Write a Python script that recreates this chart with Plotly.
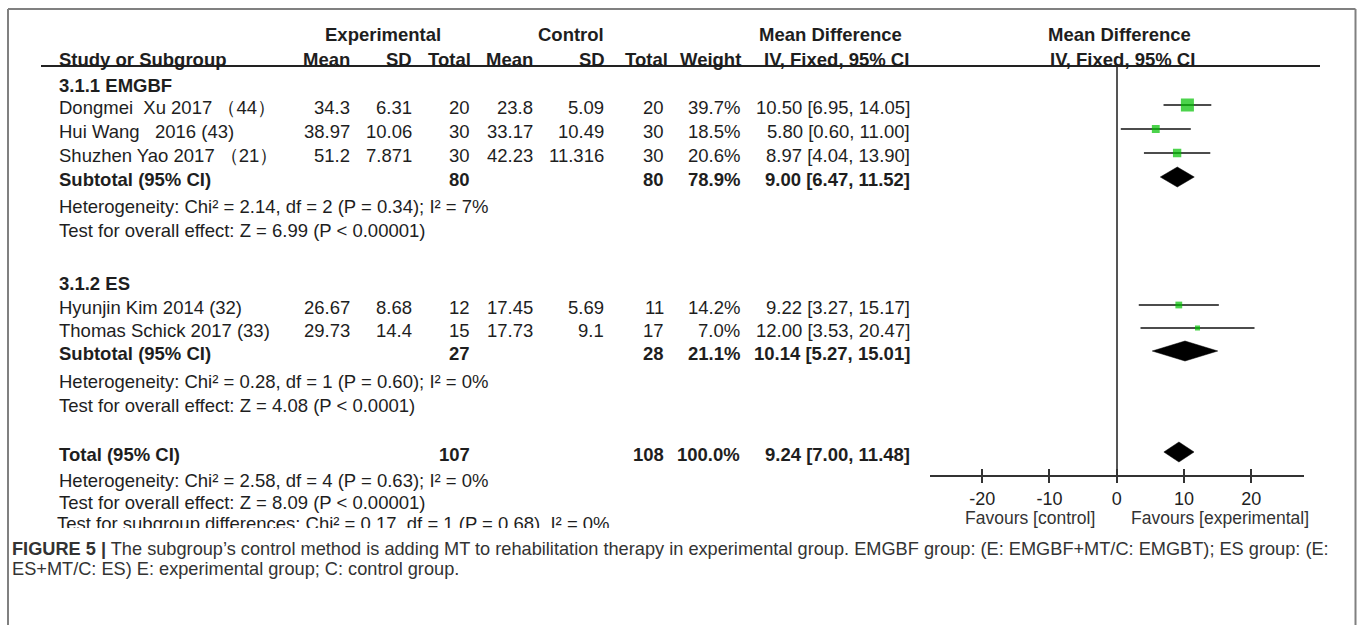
import plotly.graph_objects as go

# ---------------- data ----------------
studies = ["Dongmei\u00a0 Xu 2017 （44）", "Hui Wang\u00a0\u00a0 2016 (43)", "Shuzhen Yao 2017 （21）",
           "Hyunjin Kim 2014 (32)", "Thomas Schick 2017 (33)"]
study_group = [0, 0, 0, 1, 1]
exp_mean = [34.3, 38.97, 51.2, 26.67, 29.73]
exp_sd = [6.31, 10.06, 7.871, 8.68, 14.4]
exp_n = [20, 30, 30, 12, 15]
ctl_mean = [23.8, 33.17, 42.23, 17.45, 17.73]
ctl_sd = [5.09, 10.49, 11.316, 5.69, 9.1]
ctl_n = [20, 30, 30, 11, 17]
weight = [39.7, 18.5, 20.6, 14.2, 7.0]
md = [10.50, 5.80, 8.97, 9.22, 12.00]
md_lo = [6.95, 0.60, 4.04, 3.27, 3.53]
md_hi = [14.05, 11.00, 13.90, 15.17, 20.47]

subgroups = ["3.1.1 EMGBF", "3.1.2 ES"]
sub_exp_n = [80, 27]
sub_ctl_n = [80, 28]
sub_weight = [78.9, 21.1]
sub_md = [9.00, 10.14]
sub_lo = [6.47, 5.27]
sub_hi = [11.52, 15.01]
sub_het = ["Heterogeneity: Chi² = 2.14, df = 2 (P = 0.34); I² = 7%",
           "Heterogeneity: Chi² = 0.28, df = 1 (P = 0.60); I² = 0%"]
sub_effect = ["Test for overall effect: Z = 6.99 (P < 0.00001)",
              "Test for overall effect: Z = 4.08 (P < 0.0001)"]

total_exp_n, total_ctl_n, total_weight = 107, 108, 100.0
total_md, total_lo, total_hi = 9.24, 7.00, 11.48
total_het = "Heterogeneity: Chi² = 2.58, df = 4 (P = 0.63); I² = 0%"
total_effect = "Test for overall effect: Z = 8.09 (P < 0.00001)"
subgroup_diff = "Test for subgroup differences: Chi² = 0.17, df = 1 (P = 0.68), I² = 0%"

axis_ticks = [-20, -10, 0, 10, 20]
favours = ["Favours [control]", "Favours [experimental]"]
caption = ["<b>FIGURE 5 |</b> The subgroup’s control method is adding MT to rehabilitation therapy in "
           "experimental group. EMGBF group: (E: EMGBF+MT/C: EMGBT); ES group: (E:",
           "ES+MT/C: ES) E: experimental group; C: control group."]

# ---------------- layout constants (pixels) ----------------
W, H = 1357, 625
FONT = "Liberation Sans, Arial, sans-serif"
INK = "#1e1e1e"
FS = 18.5
GREEN = "#00c000"

X_NAME = 57
X_EMEAN, X_ESD, X_EN = 352, 414, 472
X_CMEAN, X_CSD, X_CN = 535, 606, 666
X_WT, X_CI = 742, 912

Y_SUB_HEAD = [84, 281]
Y_STUDY = [105, 129, 153, 305, 328]
Y_SUBTOTAL = [177, 351]
Y_HET = [204, 379]
Y_EFF = [229, 403]
Y_TOTAL = 452
Y_TOT_HET, Y_TOT_EFF, Y_SUBDIFF = 481, 502, 525
TXT_DY = 2

FOREST_X0, FOREST_X1 = 930, 1303.5
FOREST_TOP, FOREST_AXIS = 66, 475
X_RANGE = [-27.75, 27.75]
DIAMOND_HALF = 10

annotations = []


def txt(x, y, s, anchor="left", bold=False, size=FS, color=INK):
    annotations.append(dict(
        x=x / W, y=1 - y / H, xref="paper", yref="paper",
        text=f"<b>{s}</b>" if bold else s, showarrow=False,
        xanchor=anchor, yanchor="middle",
        font=dict(size=size, color=color, family=FONT)))


# column headers
txt(383, 34, "Experimental", "center", True)
txt(571, 34, "Control", "center", True)
txt(757, 34, "Mean Difference", "left", True)
txt(1046, 34, "Mean Difference", "left", True)
txt(X_NAME, 59, "Study or Subgroup", "left", True)
for x, s in [(X_EMEAN, "Mean"), (X_ESD, "SD"), (473, "Total"), (X_CMEAN, "Mean"),
             (607, "SD"), (670, "Total"), (743, "Weight")]:
    txt(x, 59, s, "right", True)
txt(762, 59, "IV, Fixed, 95% CI", "left", True)
txt(1048, 59, "IV, Fixed, 95% CI", "left", True)


def ci_text(m, lo, hi):
    return f"{m:.2f} [{lo:.2f}, {hi:.2f}]"


# study rows
for i, name in enumerate(studies):
    y = Y_STUDY[i] + TXT_DY
    txt(X_NAME, y, name)
    txt(X_EMEAN, y, str(exp_mean[i]), "right")
    txt(X_ESD, y, str(exp_sd[i]), "right")
    txt(X_EN, y, str(exp_n[i]), "right")
    txt(X_CMEAN, y, str(ctl_mean[i]), "right")
    txt(X_CSD, y, str(ctl_sd[i]), "right")
    txt(X_CN, y, str(ctl_n[i]), "right")
    txt(X_WT, y, f"{weight[i]:.1f}%", "right")
    txt(X_CI, y, ci_text(md[i], md_lo[i], md_hi[i]), "right")

# subgroup blocks
for g, name in enumerate(subgroups):
    txt(X_NAME, Y_SUB_HEAD[g] + TXT_DY, name, bold=True)
    y = Y_SUBTOTAL[g] + TXT_DY
    txt(X_NAME, y, "Subtotal (95% CI)", bold=True)
    txt(X_EN, y, str(sub_exp_n[g]), "right", True)
    txt(X_CN, y, str(sub_ctl_n[g]), "right", True)
    txt(X_WT, y, f"{sub_weight[g]:.1f}%", "right", True)
    txt(X_CI, y, ci_text(sub_md[g], sub_lo[g], sub_hi[g]), "right", True)
    txt(X_NAME, Y_HET[g] + TXT_DY, sub_het[g])
    txt(X_NAME, Y_EFF[g] + TXT_DY, sub_effect[g])

# overall
y = Y_TOTAL + TXT_DY
txt(X_NAME, y, "Total (95% CI)", bold=True)
txt(X_EN, y, str(total_exp_n), "right", True)
txt(X_CN, y, str(total_ctl_n), "right", True)
txt(X_WT, y, f"{total_weight:.1f}%", "right", True)
txt(X_CI, y, ci_text(total_md, total_lo, total_hi), "right", True)
txt(X_NAME, Y_TOT_HET, total_het)
txt(X_NAME, Y_TOT_EFF, total_effect)

# favours labels under the axis
txt(1030, 518, favours[0], "center", size=17.5, color="#333")
txt(1220, 518, favours[1], "center", size=17.5, color="#333")

# caption
txt(10, 549, caption[0], "left", size=18.2, color="#333")
txt(10, 569, caption[1], "left", size=18.2, color="#333")

# ---------------- forest plot traces ----------------
fig = go.Figure()

ci_x, ci_y = [], []
for i in range(len(studies)):
    ci_x += [md_lo[i], md_hi[i], None]
    ci_y += [Y_STUDY[i], Y_STUDY[i], None]
fig.add_trace(go.Scatter(x=ci_x, y=ci_y, mode="lines", line=dict(color="#111", width=1.6),
                         xaxis="x2", yaxis="y2", hoverinfo="skip", showlegend=False))

fig.add_trace(go.Scatter(
    x=md, y=Y_STUDY, mode="markers",
    marker=dict(symbol="square", color=GREEN, size=[3.3 + 0.245 * w for w in weight], line=dict(width=0)),
    xaxis="x2", yaxis="y2", hoverinfo="skip", showlegend=False))

pooled = list(zip(sub_md, sub_lo, sub_hi, Y_SUBTOTAL)) + [(total_md, total_lo, total_hi, Y_TOTAL)]
for m, lo, hi, yc in pooled:
    fig.add_trace(go.Scatter(
        x=[lo, m, hi, m, lo], y=[yc, yc - DIAMOND_HALF, yc, yc + DIAMOND_HALF, yc],
        mode="lines", fill="toself", fillcolor="#000", line=dict(color="#000", width=0.5),
        xaxis="x2", yaxis="y2", hoverinfo="skip", showlegend=False))

# helper trace so the upward tick overlay axis is drawn
fig.add_trace(go.Scatter(x=[0], y=[-100], mode="markers", marker=dict(opacity=0),
                         xaxis="x3", yaxis="y2", hoverinfo="skip", showlegend=False))

# final statistics line, cut off by the lower edge of the forest-plot image
CLIP_TOP, CLIP_BOTTOM = 512, 528
fig.add_trace(go.Scatter(
    x=[X_NAME], y=[Y_SUBDIFF], mode="text", text=[subgroup_diff], textposition="middle right",
    textfont=dict(size=FS, color=INK, family=FONT), cliponaxis=True,
    xaxis="x4", yaxis="y4", hoverinfo="skip", showlegend=False))

dom_x = [FOREST_X0 / W, FOREST_X1 / W]
dom_y = [1 - FOREST_AXIS / H, 1 - FOREST_TOP / H]

shapes = [
    # figure frame (open at the bottom)
    dict(type="line", xref="paper", yref="paper", x0=8 / W, x1=8 / W, y0=-0.05, y1=1 - 9 / H,
         line=dict(color="#808080", width=2)),
    dict(type="line", xref="paper", yref="paper", x0=8 / W, x1=1355.5 / W, y0=1 - 9 / H, y1=1 - 9 / H,
         line=dict(color="#808080", width=2)),
    dict(type="line", xref="paper", yref="paper", x0=1355.5 / W, x1=1355.5 / W, y0=-0.05, y1=1 - 9 / H,
         line=dict(color="#808080", width=2)),
    # header rule
    dict(type="line", xref="paper", yref="paper", x0=41 / W, x1=1320 / W, y0=1 - 66 / H, y1=1 - 66 / H,
         line=dict(color="#222", width=2)),
]

fig.update_layout(
    width=W, height=H, margin=dict(l=0, r=0, t=0, b=0),
    paper_bgcolor="white", plot_bgcolor="rgba(0,0,0,0)",
    showlegend=False, annotations=annotations, shapes=shapes,
    font=dict(family=FONT, color=INK),
    xaxis=dict(visible=False),
    yaxis=dict(visible=False),
    xaxis2=dict(domain=dom_x, range=X_RANGE, anchor="y2", showgrid=False,
                showline=True, linecolor="#333", linewidth=2,
                ticks="outside", ticklen=6, tickwidth=2, tickcolor="#333",
                tickvals=axis_ticks, ticktext=[str(t) for t in axis_ticks],
                tickfont=dict(size=18, color=INK, family=FONT),
                zeroline=True, zerolinecolor="#555", zerolinewidth=1.6, fixedrange=True),
    xaxis3=dict(overlaying="x2", anchor="y2", range=X_RANGE, showgrid=False, showline=False,
                ticks="inside", ticklen=6, tickwidth=2, tickcolor="#333",
                tickvals=axis_ticks, showticklabels=False, zeroline=False, fixedrange=True),
    yaxis2=dict(domain=dom_y, range=[FOREST_AXIS, FOREST_TOP], anchor="x2", visible=False,
                showgrid=False, zeroline=False, fixedrange=True),
    xaxis4=dict(domain=[0, 1], range=[0, W], anchor="y4", visible=False, fixedrange=True),
    yaxis4=dict(domain=[1 - CLIP_BOTTOM / H, 1 - CLIP_TOP / H], range=[CLIP_BOTTOM, CLIP_TOP],
                anchor="x4", visible=False, fixedrange=True),
)

fig.write_html("out.html")
